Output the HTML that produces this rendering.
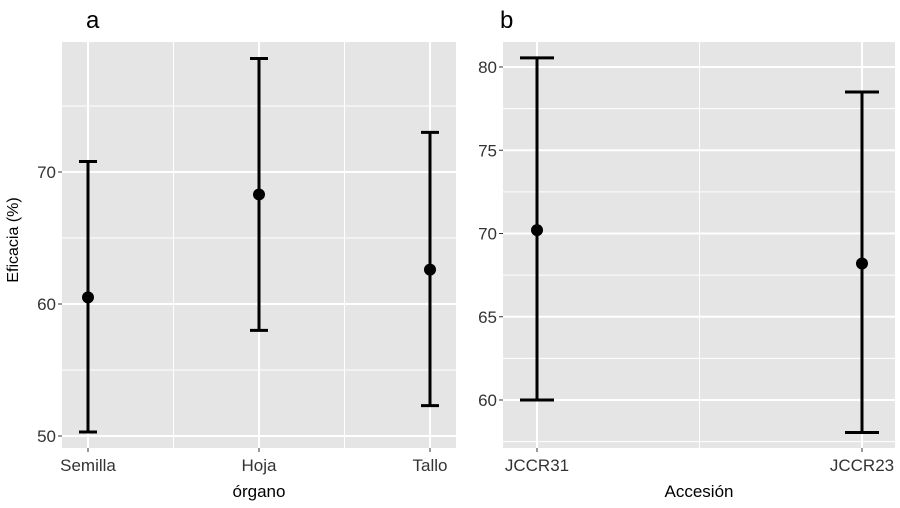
<!DOCTYPE html>
<html><head><meta charset="utf-8"><style>
body{margin:0;background:#fff}
svg{display:block;font-family:"Liberation Sans",Arial,sans-serif}
</style></head><body>
<svg id="c" width="900" height="508" viewBox="0 0 900 508"></svg>
<script>
const catsA=["Semilla","Hoja","Tallo"];
const meanA=[60.5,68.3,62.6];
const loA=[50.3,58.0,52.3];
const hiA=[70.8,78.6,73.0];
const ticksA=[50,60,70];
const catsB=["JCCR31","JCCR23"];
const meanB=[70.2,68.2];
const loB=[60.0,58.05];
const hiB=[80.55,78.5];
const ticksB=[60,65,70,75,80];

const NS="http://www.w3.org/2000/svg";
const svg=document.getElementById('c');
function el(t,a,p){const e=document.createElementNS(NS,t);for(const k in a)e.setAttribute(k,a[k]);(p||svg).appendChild(e);return e;}

function panel(o){
  const g=el('g',{});
  
  
  const bg=el('rect',{x:o.x0,y:o.y0,width:o.x1-o.x0,height:o.y1-o.y0,fill:'#e5e5e5'},g);
  
  
  const y=v=>o.py0+(v-o.v0)*(o.py1-o.py0)/(o.v1-o.v0);
  const n=o.cats.length;
  const x=i=>o.cx0+i*(o.cx1-o.cx0)/(n-1);
  for(let k=0;k<o.ticks.length+1;k++){
    const v=o.ticks[0]+(k-0.5)*(o.ticks[1]-o.ticks[0]);
    const yy=y(v);
    if(yy>o.y0&&yy<o.y1){const l=el('line',{x1:o.x0,x2:o.x1,y1:yy,y2:yy,stroke:'#fff','stroke-width':1},g);
      }
  }
  for(let i=0;i<n-1;i++){const xx=(x(i)+x(i+1))/2;
    const l=el('line',{x1:xx,x2:xx,y1:o.y0,y2:o.y1,stroke:'#fff','stroke-width':1},g);
    }
  o.ticks.forEach(v=>{const yy=y(v);
    const l=el('line',{x1:o.x0,x2:o.x1,y1:yy,y2:yy,stroke:'#fff','stroke-width':2},g);
    
    const t=el('line',{x1:o.x0-4,x2:o.x0,y1:yy,y2:yy,stroke:'#333','stroke-width':1},g);
    
    const tx=el('text',{x:o.x0-6,y:yy+6,'text-anchor':'end','font-size':17,fill:'#333'},g);
    tx.textContent=v;
    
  });
  o.cats.forEach((c,i)=>{const xx=x(i);
    const l=el('line',{x1:xx,x2:xx,y1:o.y0,y2:o.y1,stroke:'#fff','stroke-width':2},g);
    
    const t=el('line',{x1:xx,x2:xx,y1:o.y1,y2:o.y1+4,stroke:'#333','stroke-width':1},g);
    
    const tx=el('text',{x:xx,y:o.y1+23,'text-anchor':'middle','font-size':17,fill:'#333'},g);
    tx.textContent=c;
    
  });
  o.cats.forEach((c,i)=>{const xx=x(i);
    const eb=el('g',{},g);
    
    
    el('line',{x1:xx,x2:xx,y1:y(o.lo[i]),y2:y(o.hi[i]),stroke:'#000','stroke-width':3},eb);
    el('line',{x1:xx-o.cap,x2:xx+o.cap,y1:y(o.lo[i]),y2:y(o.lo[i]),stroke:'#000','stroke-width':3},eb);
    el('line',{x1:xx-o.cap,x2:xx+o.cap,y1:y(o.hi[i]),y2:y(o.hi[i]),stroke:'#000','stroke-width':3},eb);
    const p=el('circle',{cx:xx,cy:y(o.mean[i]),r:6,fill:'#000'},g);
    
    
  });
}
panel({name:'panel-a',x0:62,x1:456,y0:42,y1:448,cx0:88,cx1:430,py0:436,py1:172,v0:50,v1:70,
  cats:catsA,mean:meanA,lo:loA,hi:hiA,ticks:ticksA,cap:9});
panel({name:'panel-b',x0:503,x1:895,y0:42,y1:448,cx0:537,cx1:862,py0:400,py1:67,v0:60,v1:80,
  cats:catsB,mean:meanB,lo:loB,hi:hiB,ticks:ticksB,cap:17});

function txt(s,a,name){const t=el('text',a);t.textContent=s;}
txt('a',{x:86,y:28,'font-size':24,fill:'#000'},'panel-a-title');
txt('b',{x:500,y:28,'font-size':24,fill:'#000'},'panel-b-title');
txt('Eficacia (%)',{x:0,y:0,transform:'translate(18,240) rotate(-90)','text-anchor':'middle','font-size':16,fill:'#000'},'y-axis-title');
txt('órgano',{x:259,y:497,'text-anchor':'middle','font-size':17,fill:'#000'},'x-axis-title-a');
txt('Accesión',{x:699,y:497,'text-anchor':'middle','font-size':17,fill:'#000'},'x-axis-title-b');
</script>
</body></html>
